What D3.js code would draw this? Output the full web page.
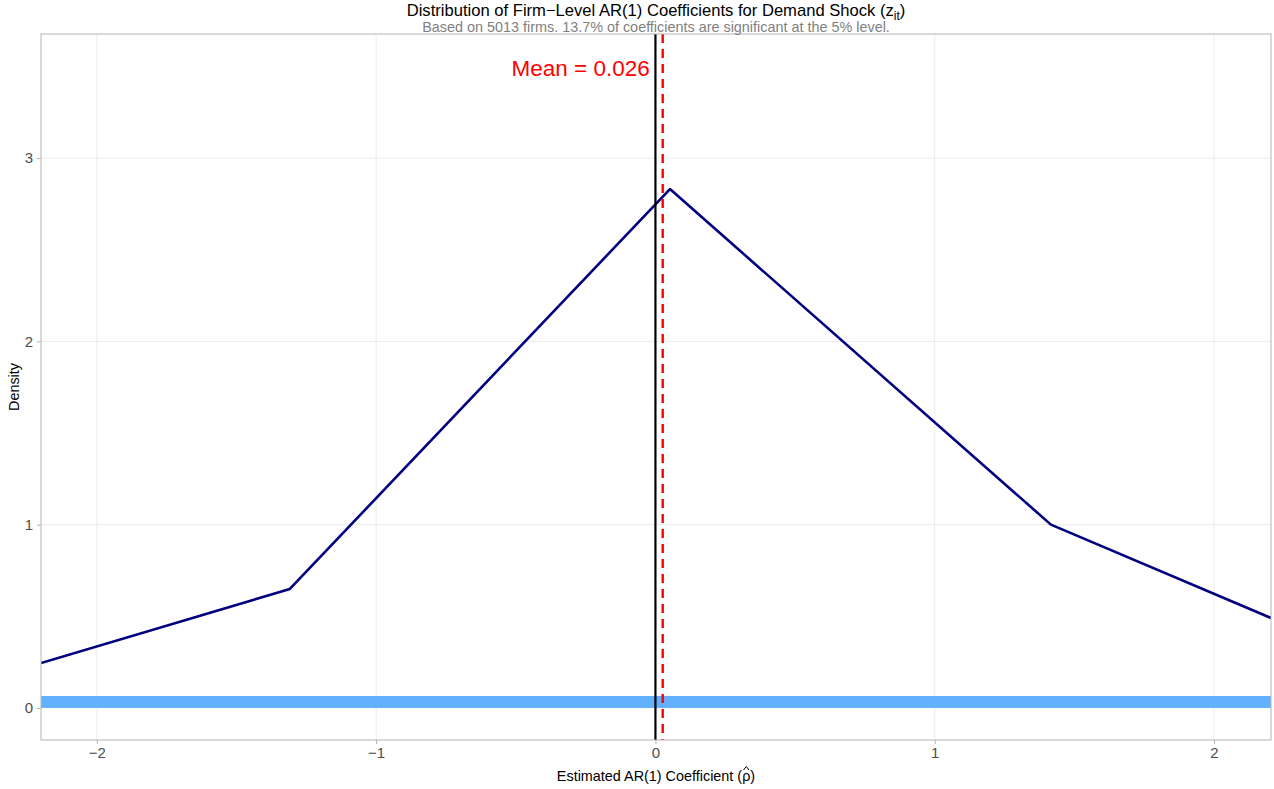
<!DOCTYPE html>
<html>
<head>
<meta charset="utf-8">
<script src="https://cdnjs.cloudflare.com/ajax/libs/d3/7.8.5/d3.min.js"></script>
<style>
  body { margin: 0; background: #fff; }
  text { font-family: "Liberation Sans", Arial, Helvetica, sans-serif; }
</style>
</head>
<body>
<div id="chart"></div>
<script>
// density curve points (estimated AR(1) coefficient, density)
const rhoValues = [-2.2, -1.309, 0.052, 1.416, 2.204];
const densityValues = [0.245, 0.649, 2.831, 1.0, 0.491];
const xTicks = [-2, -1, 0, 1, 2];
const yTicks = [0, 1, 2, 3];
const meanRho = 0.026;
const bandTop = 0.065; // light blue band height (density units)
const nFirms = 5013;
const pctSignificant = 13.7;

const W = 1274, H = 789;
const margin = { top: 34, right: 3, bottom: 49, left: 41 };
const width = W - margin.left - margin.right;
const height = H - margin.top - margin.bottom;

const svg = d3.select("#chart").append("svg")
    .attr("width", W)
    .attr("height", H);

const x = d3.scaleLinear().domain([-2.2, 2.204]).range([0, width]);
const y = d3.scaleLinear().domain([-0.175, 3.677]).range([height, 0]);

const g = svg.append("g")
    .attr("transform", `translate(${margin.left},${margin.top})`);

// clip for marks
svg.append("defs").append("clipPath").attr("id", "panel")
  .append("rect").attr("width", width).attr("height", height);

// grid lines
g.append("g").selectAll("line").data(xTicks).enter().append("line")
    .attr("x1", d => x(d)).attr("x2", d => x(d))
    .attr("y1", 0).attr("y2", height)
    .attr("stroke", "#ebebeb").attr("stroke-width", 1);
g.append("g").selectAll("line").data(yTicks).enter().append("line")
    .attr("y1", d => y(d)).attr("y2", d => y(d))
    .attr("x1", 0).attr("x2", width)
    .attr("stroke", "#ebebeb").attr("stroke-width", 1);

const marks = g.append("g").attr("clip-path", "url(#panel)");

// band along the bottom
marks.append("rect")
    .attr("x", 0)
    .attr("width", width)
    .attr("y", y(bandTop))
    .attr("height", y(0) - y(bandTop))
    .attr("fill", "#63b0ff");

// density line
const data = rhoValues.map((r, i) => ({ r: r, d: densityValues[i] }));
marks.append("path")
    .datum(data)
    .attr("fill", "none")
    .attr("stroke", "#000080")
    .attr("stroke-width", 2.6)
    .attr("stroke-linejoin", "round")
    .attr("d", d3.line().x(d => x(d.r)).y(d => y(d.d)));

// zero line
marks.append("line")
    .attr("x1", x(0)).attr("x2", x(0))
    .attr("y1", 0).attr("y2", height)
    .attr("stroke", "#000").attr("stroke-width", 2.2);

// mean line
marks.append("line")
    .attr("x1", x(meanRho)).attr("x2", x(meanRho))
    .attr("y1", 0).attr("y2", height)
    .attr("stroke", "#ff0000").attr("stroke-width", 2.4)
    .attr("stroke-dasharray", "9,6");

g.append("text")
    .attr("x", x(meanRho) - 13)
    .attr("y", 42)
    .attr("text-anchor", "end")
    .attr("fill", "#ff0000")
    .style("font-size", "22.5px")
    .text(`Mean = ${meanRho.toFixed(3)}`);

// panel border
g.append("rect")
    .attr("width", width).attr("height", height)
    .attr("fill", "none").attr("stroke", "#b3b3b3").attr("stroke-width", 1);

// axes
const fmt = d3.format("d");
const xAxis = g.append("g")
    .attr("transform", `translate(0,${height})`)
    .call(d3.axisBottom(x).tickValues(xTicks).tickFormat(fmt).tickSize(4).tickPadding(3).tickSizeOuter(0));
const yAxis = g.append("g")
    .call(d3.axisLeft(y).tickValues(yTicks).tickFormat(fmt).tickSize(4).tickPadding(4).tickSizeOuter(0));
[xAxis, yAxis].forEach(a => {
  a.select(".domain").remove();
  a.selectAll(".tick line").attr("stroke", "#b3b3b3");
  a.selectAll(".tick text")
    .attr("fill", "#4d4d4d")
    .style("font-size", "15px")
    .style("font-family", "'Liberation Sans', Arial, sans-serif");
});

// titles
const title = svg.append("text")
    .attr("x", margin.left + width / 2)
    .attr("y", 16)
    .attr("text-anchor", "middle")
    .style("font-size", "16.6px")
    .attr("fill", "#000");
title.append("tspan").text("Distribution of Firm\u2212Level AR(1) Coefficients for Demand Shock (z");
title.append("tspan").attr("dy", 3.5).style("font-size", "12px").text("it");
title.append("tspan").attr("dy", -3.5).text(")");

svg.append("text")
    .attr("x", margin.left + width / 2)
    .attr("y", 32)
    .attr("text-anchor", "middle")
    .style("font-size", "14.4px")
    .attr("fill", "#7f7f7f")
    .text(`Based on ${nFirms} firms. ${pctSignificant}% of coefficients are significant at the 5% level.`);

// axis titles
const xlabStr = "Estimated AR(1) Coefficient (\u03C1)";
const xlab = svg.append("text")
    .attr("x", margin.left + width / 2)
    .attr("y", 781)
    .attr("text-anchor", "middle")
    .style("font-size", "14.4px")
    .attr("fill", "#000")
    .text(xlabStr);

// hat over rho, drawn as a small stroke
const rhoIdx = xlabStr.indexOf("\u03C1");
const node = xlab.node();
const p0 = node.getStartPositionOfChar(rhoIdx);
const p1 = node.getEndPositionOfChar(rhoIdx);
const cx = (p0.x + p1.x) / 2;
svg.append("path")
    .attr("d", `M${cx - 2.8},${p0.y - 11} L${cx},${p0.y - 14.5} L${cx + 2.8},${p0.y - 11}`)
    .attr("fill", "none")
    .attr("stroke", "#000")
    .attr("stroke-width", 1);

svg.append("text")
    .attr("transform", `translate(19,${margin.top + height / 2}) rotate(-90)`)
    .attr("text-anchor", "middle")
    .style("font-size", "14.4px")
    .attr("fill", "#000")
    .text("Density");
</script>
</body>
</html>
